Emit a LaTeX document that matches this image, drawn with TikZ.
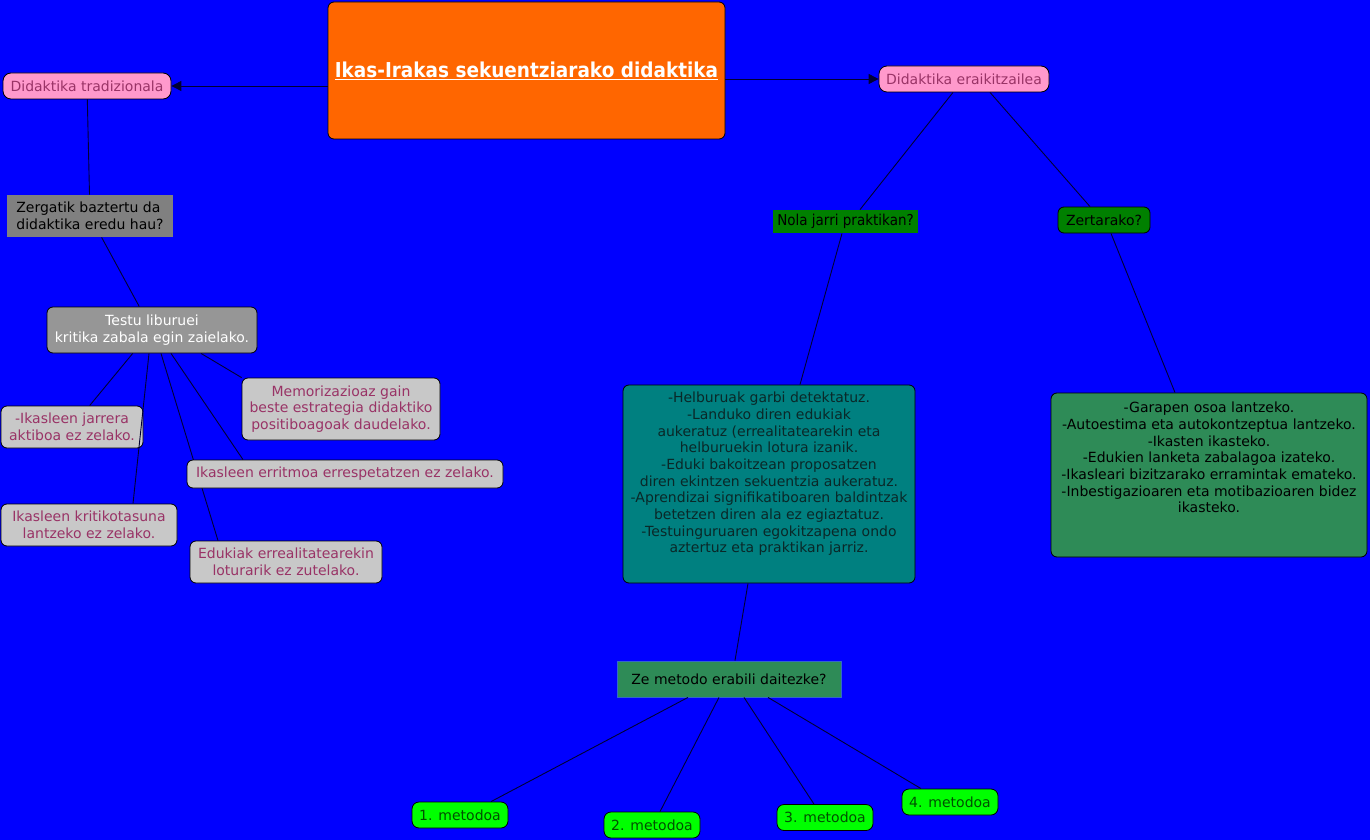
\documentclass[tikz,border=0pt]{standalone}
\usepackage{fontspec}
\setmainfont{DejaVu Sans}
\newfontfamily\titlefont[FakeStretch=0.9]{DejaVu Sans}
\newfontfamily\narrowfont[FakeStretch=0.9]{DejaVu Sans}
\usetikzlibrary{arrows.meta,calc}
\definecolor{bgblue}{HTML}{0000FF}
\definecolor{orangec}{HTML}{FF6600}
\definecolor{pinkc}{HTML}{FF99CC}
\definecolor{plumc}{HTML}{993366}
\definecolor{grayA}{HTML}{808080}
\definecolor{grayB}{HTML}{969696}
\definecolor{grayC}{HTML}{C8C8C8}
\definecolor{dgreen}{HTML}{008000}
\definecolor{tealc}{HTML}{008080}
\definecolor{seac}{HTML}{2E8B57}
\definecolor{limec}{HTML}{00FF00}
\definecolor{mtext}{HTML}{005000}
\definecolor{linec}{HTML}{000033}
\definecolor{tealtext}{HTML}{0A2828}
\definecolor{zeborder}{HTML}{3366CC}
\tikzset{
  basebox/.style={rectangle, inner sep=0pt, align=center, line width=0.8pt,
    font=\fontsize{14}{16.7}\selectfont},
  rbox/.style={basebox, draw=black, rounded corners=6pt},
  pinkbox/.style={rbox, rounded corners=8pt, fill=pinkc, text=plumc, minimum height=26pt},
  lgbox/.style={rbox, fill=grayC, text=plumc},
  metbox/.style={rbox, rounded corners=7pt, fill=limec, text=mtext, minimum width=96pt, minimum height=26pt},
  conn/.style={draw=linec, line width=0.9pt},
  arr/.style={conn, -{Triangle[length=10pt,width=10pt]}},
}
\begin{document}
\begin{tikzpicture}[x=1pt,y=-1pt]
\fill[bgblue] (0,0) rectangle (1370,840);
\useasboundingbox (0,0) rectangle (1370,840);

% nodes
\node[rbox, fill=orangec, text=white, minimum width=397pt, minimum height=137pt,
  font=\titlefont\bfseries\fontsize{20.5}{24}\selectfont] (title) at (526.5,70.5)
  {\underline{Ikas-Irakas sekuentziarako didaktika}};
\node[pinkbox, minimum width=168pt] (trad) at (87,86) {Didaktika tradizionala};
\node[pinkbox, minimum width=170pt] (erai) at (964,79) {Didaktika eraikitzailea};

\node[basebox, fill=grayA, text=black, align=left, minimum width=166pt, minimum height=42pt] (zerg) at (90,216)
  {Zergatik baztertu da\\didaktika eredu hau?};
\node[rbox, fill=grayB, text=white, minimum width=210pt, minimum height=46pt] (testu) at (152,330)
  {Testu liburuei\\kritika zabala egin zaielako.};

\node[lgbox, minimum width=198pt, minimum height=62pt] (memo) at (341,409)
  {Memorizazioaz gain\\beste estrategia didaktiko\\positiboagoak daudelako.};
\node[lgbox, minimum width=142pt, minimum height=42pt] (jarr) at (72,427)
  {-Ikasleen jarrera\\aktiboa ez zelako.};
\node[lgbox, minimum width=176pt, minimum height=42pt] (krit) at (89,525)
  {Ikasleen kritikotasuna\\lantzeko ez zelako.};
\node[lgbox, minimum width=192pt, minimum height=42pt] (eduk) at (286,562)
  {Edukiak errealitatearekin\\loturarik ez zutelako.};

% connectors left side (the line to eduk is drawn before errit, which covers it)
\draw[conn] (trad) -- (zerg);
\draw[conn] (zerg) -- (testu);
\draw[conn] ([xshift=49pt]testu.south) -- (memo.north west);
\draw[conn] (testu) -- (jarr);
\draw[conn] ([xshift=-3pt]testu.south) -- ([xshift=44pt]krit.north);
\draw[conn] ([xshift=9pt]testu.south) -- ([xshift=-68pt]eduk.north);

\node[lgbox, minimum width=316pt, minimum height=28pt] (errit) at (345,474)
  {Ikasleen erritmoa errespetatzen ez zelako.};
\draw[conn] ([xshift=19pt]testu.south) -- ([xshift=-102pt]errit.north);

% right side
\node[basebox, fill=dgreen, text=black, minimum width=145pt, minimum height=23pt,
  font=\narrowfont\fontsize{15}{17}\selectfont] (nola) at (845.5,221.5) {Nola jarri praktikan?};
\node[rbox, fill=dgreen, text=black, minimum width=92pt, minimum height=26pt] (zert) at (1104,220) {Zertarako?};

\node[rbox, fill=tealc, text=tealtext, minimum width=292pt, minimum height=198pt] (teal) at (769,484)
  {\parbox[c][198pt][t]{292pt}{\centering\fontsize{14}{16.7}\selectfont\vspace{7pt}%
  -Helburuak garbi detektatuz.\\
  -Landuko diren edukiak\\
  aukeratuz (errealitatearekin eta\\
  helburuekin lotura izanik.\\
  -Eduki bakoitzean proposatzen\\
  diren ekintzen sekuentzia aukeratuz.\\
  -Aprendizai signifikatiboaren baldintzak\\
  betetzen diren ala ez egiaztatuz.\\
  -Testuinguruaren egokitzapena ondo\\
  aztertuz eta praktikan jarriz.}};

\node[rbox, fill=seac, text=black, minimum width=316pt, minimum height=164pt] (green) at (1209,475)
  {\parbox[c][164pt][t]{316pt}{\centering\fontsize{14}{16.7}\selectfont\vspace{9pt}%
  -Garapen osoa lantzeko.\\
  -Autoestima eta autokontzeptua lantzeko.\\
  -Ikasten ikasteko.\\
  -Edukien lanketa zabalagoa izateko.\\
  -Ikasleari bizitzarako erramintak emateko.\\
  -Inbestigazioaren eta motibazioaren bidez\\
  ikasteko.}};

\node[basebox, draw=zeborder, fill=seac, text=black, minimum width=224pt, minimum height=36pt] (ze) at (729,679)
  {Ze metodo erabili daitezke?};

\node[metbox] (m1) at (460,815) {1. metodoa};
\node[metbox] (m2) at (652,825) {2. metodoa};
\node[metbox] (m3) at (825,817.5) {3. metodoa};
\node[metbox] (m4) at (950,802) {4. metodoa};

% connectors right side
\draw[arr] ($(title.west)+(0,15.5)$) -- (trad.east);
\draw[arr] ($(title.east)+(0,8.5)$) -- (erai.west);
\draw[conn] ([xshift=-11pt]erai.south) -- ([xshift=14.5pt]nola.north);
\draw[conn] ([xshift=26pt]erai.south) -- ([xshift=-14pt]zert.north);
\draw[conn] ([xshift=-3.5pt]nola.south) -- ([xshift=31pt]teal.north);
\draw[conn] ([xshift=7pt]zert.south) -- ([xshift=-34pt]green.north);
\draw[conn] ([xshift=-21pt]teal.south) -- ([xshift=6pt]ze.north);
\draw[conn] ([xshift=-41pt]ze.south) -- ([xshift=31pt]m1.north);
\draw[conn] ([xshift=-10pt]ze.south) -- ([xshift=8pt]m2.north);
\draw[conn] ([xshift=15pt]ze.south) -- ([xshift=-11pt]m3.north);
\draw[conn] ([xshift=39pt]ze.south) -- ([xshift=-29pt]m4.north);
\end{tikzpicture}
\end{document}
